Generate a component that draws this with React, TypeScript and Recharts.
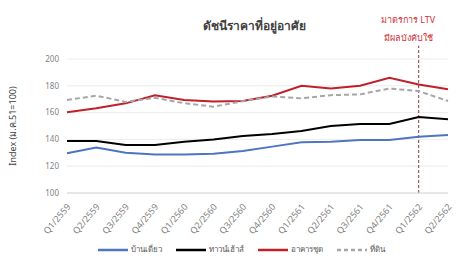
import { LineChart, Line, XAxis, YAxis, CartesianGrid, ReferenceLine } from 'recharts'

const quarters = [
  'Q1/2559', 'Q2/2559', 'Q3/2559', 'Q4/2559',
  'Q1/2560', 'Q2/2560', 'Q3/2560', 'Q4/2560',
  'Q1/2561', 'Q2/2561', 'Q3/2561', 'Q4/2561',
  'Q1/2562', 'Q2/2562',
]
const singleHouse = [129.6, 134, 130, 128.8, 128.8, 129.3, 131.3, 134.6, 137.8, 138.3, 139.5, 139.5, 142, 143.3]
const townhouse = [138.8, 138.8, 135.8, 135.8, 138.3, 140, 142.5, 144, 146.3, 150, 151.5, 151.5, 156.7, 155]
const condo = [160.2, 163.2, 166.9, 173, 169.4, 168.2, 168.7, 172.6, 180, 178, 180, 186, 181, 177.4]
const land = [169.4, 172.6, 168, 171, 167, 164.4, 168.5, 172, 170.6, 173, 173.6, 178, 176, 168.7]
const yTicks = [100, 120, 140, 160, 180, 200]

const data = quarters.map((q, i) => ({
  q,
  single: singleHouse[i],
  town: townhouse[i],
  condo: condo[i],
  land: land[i],
}))

const thaiFont = '"Noto Sans", "DejaVu Sans", sans-serif'

function QuarterTick(props: any) {
  const { x, y, payload } = props
  return (
    <text
      x={x + 4}
      y={y + 6}
      transform={`rotate(-50 ${x + 4} ${y + 6})`}
      textAnchor="end"
      fontSize={9}
      fill="#7f7f7f"
    >
      {payload.value}
    </text>
  )
}

const legendItems = [
  { label: 'บ้านเดี่ยว', color: '#4f74c0', dash: false },
  { label: 'ทาวน์เฮ้าส์', color: '#000000', dash: false },
  { label: 'อาคารชุด', color: '#c0202a', dash: false },
  { label: 'ที่ดิน', color: '#a6a6a6', dash: true },
]

export default function App() {
  return (
    <div style={{ position: 'relative', width: 458, height: 265, background: '#fff', fontFamily: thaiFont }}>
      <style>{'body{margin:0}'}</style>
      <LineChart width={458} height={265} data={data} margin={{ top: 59, right: 10, bottom: 22, left: 27 }}>
        <CartesianGrid vertical={false} stroke="#ececec" />
        <XAxis
          dataKey="q"
          interval={0}
          tickLine={false}
          axisLine={{ stroke: '#d9d9d9' }}
          height={50}
          tick={<QuarterTick />}
        />
        <YAxis
          domain={[100, 200]}
          ticks={yTicks}
          width={40}
          axisLine={false}
          tickLine={false}
          tick={{ fontSize: 8, fill: '#7f7f7f' }}
          label={{
            value: 'Index (ม.ค.51=100)',
            angle: -90,
            position: 'insideLeft',
            offset: -14,
            style: { fontSize: 9, fill: '#404040', textAnchor: 'middle' },
          }}
        />
        <ReferenceLine
          segment={[{ x: 'Q1/2562', y: 100 }, { x: 'Q1/2562', y: 210 }]}
          stroke="#8b3a3a"
          strokeDasharray="3 2"
          strokeWidth={1}
          ifOverflow="visible"
        />
        <Line dataKey="single" stroke="#4f74c0" strokeWidth={2} dot={false} isAnimationActive={false} />
        <Line dataKey="town" stroke="#000000" strokeWidth={2} dot={false} isAnimationActive={false} />
        <Line dataKey="condo" stroke="#c0202a" strokeWidth={2} dot={false} isAnimationActive={false} />
        <Line dataKey="land" stroke="#a6a6a6" strokeWidth={2} strokeDasharray="5 3" dot={false} isAnimationActive={false} />
      </LineChart>
      <div style={{ position: 'absolute', top: 16, left: 0, width: 508, textAlign: 'center', fontSize: 12, fontWeight: 'bold', color: '#404040' }}>
        ดัชนีราคาที่อยู่อาศัย
      </div>
      <div style={{ position: 'absolute', top: 11, left: 363, width: 90, textAlign: 'center', fontSize: 9, lineHeight: '18px', color: '#d0313b' }}>
        มาตรการ LTV
        <br />
        มีผลบังคับใช้
      </div>
      <div style={{ position: 'absolute', top: 243, left: 98, display: 'flex', alignItems: 'center', fontSize: 8, color: '#595959' }}>
        {legendItems.map((it) => (
          <div key={it.label} style={{ display: 'flex', alignItems: 'center', marginRight: 14 }}>
            <svg width={30} height={6}>
              <line x1={0} y1={3} x2={30} y2={3} stroke={it.color} strokeWidth={2.5} strokeDasharray={it.dash ? '4 3' : undefined} />
            </svg>
            <span style={{ marginLeft: 3 }}>{it.label}</span>
          </div>
        ))}
      </div>
    </div>
  )
}
